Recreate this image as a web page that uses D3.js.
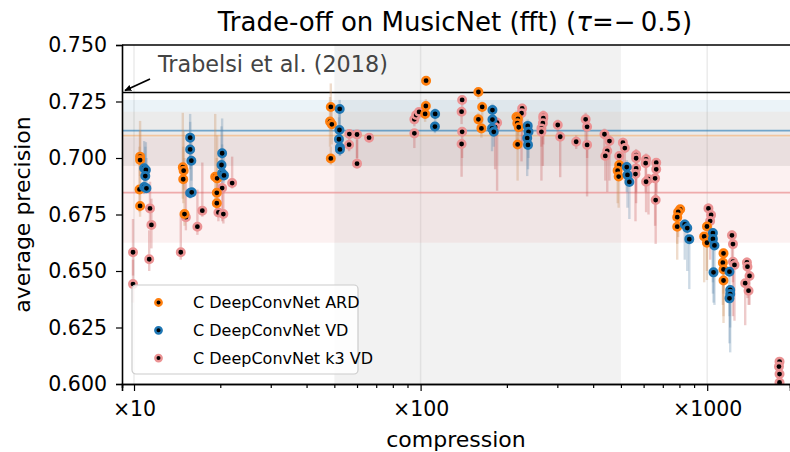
<!DOCTYPE html>
<meta charset="utf-8">
<title>Trade-off on MusicNet</title>
<html>
<style>
body { margin: 0; background: #fff; }
svg { font-family: "DejaVu Sans", sans-serif; }
</style>
<body>
<svg width="790" height="452"></svg>
<script src="https://cdn.jsdelivr.net/npm/d3@7/dist/d3.min.js"></script>
<script>
// compression range and AP range of the axes
var xDomain = [9.08, 1945];
var yDomain = [0.600, 0.750];
var yTicks = [0.600, 0.625, 0.650, 0.675, 0.700, 0.725, 0.750];
var xTicks = [10, 100, 1000];
var xTickLabels = ["\u00d710", "\u00d7100", "\u00d71000"];
var xMinorTicks = [20, 30, 40, 50, 60, 70, 80, 90, 200, 300, 400, 500, 600, 700, 800, 900];

var seriesNames = ["C DeepConvNet ARD", "C DeepConvNet VD", "C DeepConvNet k3 VD"];

// [compression, average precision, low, high]
var ardPoints = [
  [10.5,0.7006,0.690,0.7164],[10.5,0.6991,0.692,0.712],[10.45,0.6861,0.676,0.705],[10.5,0.6788,0.674,0.690],
  [14.8,0.6959,0.682,0.720],[14.9,0.6944,0.686,0.712],[14.85,0.6906,0.680,0.705],[15.0,0.6752,0.670,0.700],
  [19.2,0.6917,0.680,0.7195],[19.5,0.6910,0.683,0.710],[19.45,0.6846,0.676,0.700],[19.45,0.6800,0.674,0.692],
  [48.6,0.7226,0.712,0.733],[48.3,0.7161,0.705,0.727],[49.0,0.7149,0.706,0.722],[48.6,0.6998,0.697,0.705],
  [104.5,0.7342,0.732,0.736],[104.3,0.7230,0.719,0.726],[103.7,0.7195,0.716,0.722],
  [159.1,0.7292,0.726,0.731],[164,0.7226,0.715,0.725],[159.1,0.7171,0.712,0.720],[163,0.7131,0.709,0.716],
  [216,0.7181,0.708,0.721],[218.5,0.7173,0.710,0.720],[217.5,0.7154,0.704,0.718],[220,0.7136,0.705,0.716],[218,0.7060,0.690,0.709],
  [493,0.6969,0.690,0.699],[487,0.6944,0.680,0.697],[491,0.6918,0.678,0.694],
  [805,0.6773,0.668,0.679],[792,0.6761,0.665,0.678],[786,0.6738,0.662,0.676],[786,0.6696,0.655,0.672],
  [998,0.6697,0.650,0.672],[976,0.6653,0.645,0.667],[998,0.6625,0.646,0.664],
  [1140,0.6578,0.640,0.660],[1134,0.6537,0.635,0.656],[1140,0.6507,0.630,0.652],[1140,0.6458,0.627,0.647]
];
var vdPoints = [
  [10.85,0.6955,0.688,0.7075],[11.0,0.6947,0.690,0.707],[10.95,0.6920,0.687,0.705],[10.85,0.6872,0.684,0.702],[11.05,0.6866,0.685,0.700],
  [15.7,0.7090,0.700,0.7195],[15.7,0.7038,0.695,0.716],[15.85,0.6988,0.690,0.710],[15.7,0.6845,0.682,0.700],[15.9,0.6848,0.683,0.698],
  [20.3,0.7021,0.695,0.7175],[20.2,0.6969,0.690,0.714],[20.3,0.6932,0.688,0.706],[20.6,0.6923,0.689,0.703],
  [52.2,0.7217,0.710,0.7257],[52.1,0.7124,0.704,0.723],[51.9,0.7083,0.702,0.718],[52.3,0.7046,0.701,0.712],[52.3,0.7038,0.701,0.710],
  [112.4,0.7195,0.716,0.722],[112.2,0.7139,0.711,0.716],
  [178.1,0.7212,0.718,0.724],[178.1,0.7170,0.713,0.720],[177.5,0.7131,0.703,0.716],[180,0.7116,0.705,0.714],
  [236.5,0.7142,0.705,0.717],[238,0.7116,0.700,0.714],[235.5,0.7088,0.692,0.712],[237,0.7058,0.695,0.708],
  [524,0.6960,0.685,0.699],[527,0.6925,0.678,0.695],[535,0.6894,0.673,0.691],
  [835,0.6706,0.655,0.673],[852,0.6690,0.650,0.671],[866,0.6641,0.642,0.666],
  [1047,0.6668,0.645,0.669],[1047,0.6642,0.640,0.666],[1060,0.6613,0.635,0.663],[1052,0.6494,0.636,0.651],
  [1196,0.6497,0.630,0.651],[1203,0.6416,0.625,0.643],[1203,0.6398,0.614,0.641],[1196,0.6379,0.618,0.639]
];
var k3Points = [
  [9.92,0.6583,0.648,0.673],[9.92,0.6442,0.636,0.655],[11.37,0.6777,0.672,0.6895],[11.5,0.6704,0.660,0.682],[11.3,0.6552,0.650,0.668],
  [14.56,0.6583,0.655,0.675],[15.17,0.6738,0.668,0.690],[16.64,0.6696,0.666,0.686],[17.31,0.6767,0.674,0.698],
  [19.7,0.6759,0.672,0.693],[20.5,0.6752,0.671,0.688],[20.3,0.6867,0.672,0.697],[22.0,0.6889,0.6865,0.7006],
  [56.4,0.7106,0.706,0.712],[60.0,0.7104,0.700,0.712],[56.3,0.7059,0.703,0.708],[60.0,0.6975,0.696,0.708],[66.1,0.7090,0.707,0.711],
  [95.1,0.7109,0.7044,0.712],[95.1,0.7171,0.714,0.719],[96.5,0.7190,0.716,0.721],[98.8,0.7204,0.718,0.722],
  [139.6,0.7257,0.722,0.727],[139.0,0.7205,0.715,0.722],[139.6,0.7116,0.700,0.713],[139,0.7062,0.6917,0.708],
  [184.9,0.7156,0.6855,0.718],[182,0.7137,0.695,0.716],
  [226.1,0.7219,0.706,0.724],[225,0.7198,0.6985,0.722],
  [268,0.7186,0.712,0.721],[268,0.7176,0.706,0.720],[267,0.7154,0.6965,0.718],[264,0.7131,0.690,0.716],[264,0.7116,0.705,0.714],
  [301,0.7146,0.710,0.717],[307,0.7094,0.6915,0.712],
  [349,0.7072,0.704,0.710],[376.6,0.7171,0.705,0.720],[381,0.7138,0.700,0.716],[381,0.7058,0.683,0.708],
  [438,0.7105,0.700,0.713],[456,0.7075,0.690,0.710],[448,0.7031,0.685,0.706],[441,0.7009,0.690,0.703],[508,0.7068,0.695,0.709],[516,0.7044,0.690,0.706],[493,0.7009,0.690,0.703],
  [565,0.7013,0.695,0.704],[565,0.6999,0.685,0.702],[565,0.6954,0.680,0.698],[562,0.6929,0.672,0.695],
  [612,0.6994,0.690,0.702],[610,0.6977,0.685,0.700],[624,0.6906,0.675,0.693],[612,0.6895,0.676,0.692],
  [664,0.6979,0.685,0.700],[664,0.6950,0.680,0.697],[658,0.6910,0.670,0.693],[661,0.6814,0.662,0.684],
  [1010,0.6777,0.665,0.680],[1032,0.6748,0.660,0.677],[1024,0.6721,0.655,0.674],
  [1220,0.6658,0.650,0.668],[1230,0.6619,0.645,0.664],[1230,0.6541,0.630,0.656],[1245,0.6527,0.628,0.655],
  [1376,0.6538,0.640,0.656],[1382,0.6519,0.638,0.654],[1405,0.6478,0.635,0.650],[1357,0.6446,0.626,0.646],[1394,0.6413,0.635,0.643],
  [1788,0.6099,0.608,0.611],[1780,0.6077,0.606,0.609],[1788,0.6044,0.603,0.606],[1788,0.6007,0.600,0.602]
];

// uncompressed reference: mean and band per series (ARD, VD, k3 VD)
var refMean = [0.7099, 0.7121, 0.6847];
var refLow  = [0.6965, 0.6965, 0.6625];
var refHigh = [0.7205, 0.7257, 0.7091];

var trabelsiAP = 0.729;
var trabelsiLabel = "Trabelsi et al. (2018)";
var targetRange = [50, 500];

var colors = ["#ff7f0e", "#1f77b4", "#eb9394"];

var svg = d3.select("svg"),
    margin = {top: 45, right: 0, bottom: 68, left: 122},
    width = +svg.attr("width") - margin.left - margin.right,
    height = +svg.attr("height") - margin.top - margin.bottom;

var x = d3.scaleLog().domain(xDomain).range([0, width]);
var y = d3.scaleLinear().domain(yDomain).range([height, 0]);

var defs = svg.append("defs");
defs.append("clipPath").attr("id", "plotclip")
  .append("rect").attr("width", width + 1).attr("height", height);

var g = svg.append("g").attr("transform", "translate(" + margin.left + "," + margin.top + ")");
var plot = g.append("g").attr("clip-path", "url(#plotclip)");

// target compression region
plot.append("rect")
  .attr("x", x(targetRange[0]))
  .attr("width", x(targetRange[1]) - x(targetRange[0]))
  .attr("y", 0).attr("height", height)
  .attr("fill", "#000").attr("fill-opacity", 0.05);

// vertical grid
plot.selectAll(".grid").data(xTicks).enter().append("line")
  .attr("x1", function(d) { return x(d); }).attr("x2", function(d) { return x(d); })
  .attr("y1", 0).attr("y2", height)
  .attr("stroke", "#b0b0b0").attr("stroke-opacity", 0.25).attr("stroke-width", 1.5);

// reference bands + mean lines
var order = [0, 1, 2];
plot.selectAll(".band").data(order).enter().append("rect")
  .attr("x", 0).attr("width", width)
  .attr("y", function(i) { return y(refHigh[i]); })
  .attr("height", function(i) { return y(refLow[i]) - y(refHigh[i]); })
  .attr("fill", function(i) { return colors[i]; })
  .attr("fill-opacity", function(i) { return i == 2 ? 0.13 : (i == 0 ? 0.06 : 0.09); });

plot.selectAll(".mean").data(order).enter().append("line")
  .attr("x1", 0).attr("x2", width)
  .attr("y1", function(i) { return y(refMean[i]); })
  .attr("y2", function(i) { return y(refMean[i]); })
  .attr("stroke", function(i) { return colors[i]; })
  .attr("stroke-opacity", function(i) { return i == 0 ? 0.35 : (i == 1 ? 0.6 : 0.75); })
  .attr("stroke-width", 1.8);

// Trabelsi reference line
plot.append("line")
  .attr("x1", 0).attr("x2", width)
  .attr("y1", y(trabelsiAP)).attr("y2", y(trabelsiAP))
  .attr("stroke", "#000").attr("stroke-width", 1.6);

var allSeries = [ardPoints, vdPoints, k3Points];
var drawOrder = [2, 0, 1];
var barColors = ["#c98a55", "#5a86aa", "#c85454"];

// error bars
drawOrder.forEach(function(s) {
  plot.append("g").selectAll("line").data(allSeries[s]).enter().append("line")
    .attr("x1", function(d) { return x(d[0]); })
    .attr("x2", function(d) { return x(d[0]); })
    .attr("y1", function(d) { return y(d[3]); })
    .attr("y2", function(d) { return y(d[2]); })
    .attr("stroke", barColors[s])
    .attr("stroke-opacity", 0.3)
    .attr("stroke-width", 2.4);
});

// markers
drawOrder.forEach(function(s) {
  plot.append("g").selectAll("circle").data(allSeries[s]).enter().append("circle")
    .attr("cx", function(d) { return x(d[0]); })
    .attr("cy", function(d) { return y(d[1]); })
    .attr("r", 3.7)
    .attr("fill", "#000")
    .attr("stroke", colors[s])
    .attr("stroke-width", 2.6);
});

// axes
var yAxis = g.append("g")
  .call(d3.axisLeft(y).tickValues(yTicks).tickFormat(d3.format(".3f")).tickSize(6).tickPadding(9));
var xAxis = g.append("g")
  .attr("transform", "translate(0," + height + ")")
  .call(d3.axisBottom(x).tickValues(xTicks).tickFormat(function(d, i) { return xTickLabels[i]; }).tickSize(7).tickPadding(10));
var xMinor = g.append("g")
  .attr("transform", "translate(0," + height + ")")
  .call(d3.axisBottom(x).tickValues(xMinorTicks).tickFormat("").tickSize(4));

[yAxis, xAxis, xMinor].forEach(function(a) {
  a.select(".domain").attr("stroke", "#000").attr("stroke-width", 1.6);
  a.selectAll(".tick line").attr("stroke", "#000").attr("stroke-width", 1.2);
  a.selectAll(".tick text").attr("fill", "#000").attr("font-size", 20.5).attr("font-family", "DejaVu Sans");
});

// top spine
g.append("line").attr("x1", 0).attr("x2", width).attr("y1", 0).attr("y2", 0)
  .attr("stroke", "#000").attr("stroke-width", 1.6);

// annotation
g.append("text")
  .attr("x", 36).attr("y", 27)
  .attr("font-size", 22.3)
  .attr("fill", "#444")
  .text(trabelsiLabel);

defs.append("marker")
  .attr("id", "arrowhead")
  .attr("viewBox", "0 0 10 10")
  .attr("refX", 9).attr("refY", 5)
  .attr("markerWidth", 7).attr("markerHeight", 7)
  .attr("markerUnits", "userSpaceOnUse")
  .attr("orient", "auto")
  .append("path").attr("d", "M0,0.5 L10,5 L0,9.5 z").attr("fill", "#000");

g.append("line")
  .attr("x1", 28).attr("y1", 34)
  .attr("x2", 3).attr("y2", y(trabelsiAP) - 2)
  .attr("stroke", "#000").attr("stroke-width", 1.8)
  .attr("marker-end", "url(#arrowhead)");

// titles
var title = svg.append("text")
  .attr("x", margin.left + width / 2 - 1).attr("y", 31)
  .attr("text-anchor", "middle").attr("font-size", 26);
title.append("tspan").text("Trade-off on MusicNet (fft) (");
title.append("tspan").attr("font-style", "italic").text("\u03c4");
title.append("tspan").text("=\u2212\u20090.5)");

svg.append("text")
  .attr("x", margin.left + width / 2).attr("y", 447)
  .attr("text-anchor", "middle").attr("font-size", 22)
  .text("compression");

svg.append("text")
  .attr("transform", "translate(30," + (margin.top + height / 2) + ") rotate(-90)")
  .attr("text-anchor", "middle").attr("font-size", 22)
  .text("average precision");

// legend
var legend = g.append("g").attr("transform", "translate(10,240)");
legend.append("rect")
  .attr("width", 226).attr("height", 89).attr("rx", 4)
  .attr("fill", "#fff").attr("fill-opacity", 0.8)
  .attr("stroke", "#ccc").attr("stroke-width", 1.2);

var entry = legend.selectAll(".entry").data(order).enter().append("g")
  .attr("transform", function(i) { return "translate(0," + (17.5 + i * 27.8) + ")"; });
entry.append("circle")
  .attr("cx", 26.5).attr("r", 3.2)
  .attr("fill", "#000")
  .attr("stroke", function(i) { return colors[i]; })
  .attr("stroke-width", 2.4);
entry.append("text")
  .attr("x", 61).attr("dy", "0.35em")
  .attr("font-size", 16)
  .text(function(i) { return seriesNames[i]; });
</script>
</body>
</html>
